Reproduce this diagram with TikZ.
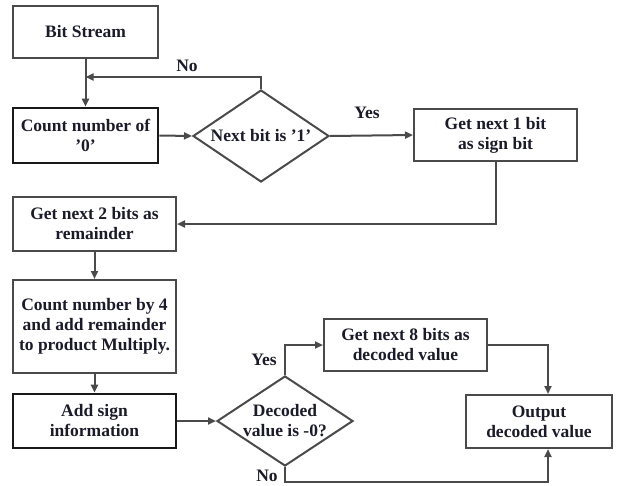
\documentclass[tikz,border=0pt]{standalone}
\usepackage{fontspec}
\setmainfont{Liberation Serif}
\usetikzlibrary{shapes.geometric,arrows.meta}
\definecolor{ln}{HTML}{4A4A4A}
\definecolor{txt}{HTML}{1A1A2A}
\tikzset{
  fl/.style={font=\bfseries\fontsize{17.5}{20}\selectfont, text=txt},
  box/.style={fl, draw=ln, line width=2pt, inner sep=0pt, align=center},
  bbox/.style={box, draw=black!90, line width=2.6pt},
  dia/.style={draw=ln, line width=2pt, shape=diamond, inner sep=0pt},
  arr/.style={draw=ln, line width=2pt, -{Triangle[length=8pt,width=7pt]}},
  lab/.style={fl}
}
\begin{document}
\begin{tikzpicture}[x=1pt,y=-1pt]
\useasboundingbox (0,0) rectangle (618,485);
\node[box, minimum width=145pt, minimum height=52pt] (bs) at (85.5,32) {Bit Stream};
\node[bbox, minimum width=145pt, minimum height=55pt] (c0) at (85.5,135.5) {Count number of\\'0'};
\node[dia, minimum width=136pt, minimum height=92pt] (d1) at (261,136) {};
\node[fl] (d1t) at (d1) {Next bit is '1'};
\node[box, minimum width=163pt, minimum height=52pt] (g1) at (495.5,135) {Get next 1 bit\\as sign bit};
\node[box, minimum width=163pt, minimum height=54pt] (g2) at (94.5,224) {Get next 2 bits as\\remainder};
\node[box, minimum width=163pt, minimum height=93pt] (c4) at (94.5,326.5) {Count number by 4\\and add remainder\\to product Multiply.};
\node[bbox, minimum width=163pt, minimum height=54pt] (add) at (94.5,421) {Add sign\\information};
\node[dia, minimum width=136pt, minimum height=90pt] (d2) at (285,421) {};
\node[fl, align=center] (d2t) at (d2) {Decoded\\value is -0?};
\node[box, minimum width=163pt, minimum height=52pt] (g8) at (405.5,345) {Get next 8 bits as\\decoded value};
\node[box, minimum width=146pt, minimum height=53pt] (out) at (539,421.5) {Output\\decoded value};

\coordinate (nj) at (85.5,77);
\coordinate (nt) at (261,77);
\coordinate (nb) at (285,482);
\coordinate (oin) at ([xshift=9pt]out.north);
\coordinate (oin2) at ([xshift=9pt]out.south);

\draw[arr] (bs.south) -- (c0.north);
\draw[arr] (d1.north) -- (nt) -- (nj);
\draw[arr] (c0.east) -- (d1.west);
\draw[arr] (d1.east) -- (g1.west);
\draw[arr] (g1.south) |- (g2.east);
\draw[arr] (g2.south) -- (c4.north);
\draw[arr] (c4.south) -- (add.north);
\draw[arr] (add.east) -- (d2.west);
\draw[arr] (d2.north) |- (g8.west);
\draw[arr] (g8.east) -| (oin);
\draw[arr] (d2.south) -- (nb) -| (oin2);

\node[lab] (lno1) at (187,66) {No};
\node[lab] (lyes1) at (367,113) {Yes};
\node[lab] (lyes2) at (264,360) {Yes};
\node[lab] (lno2) at (267,476) {No};
\end{tikzpicture}
\end{document}
